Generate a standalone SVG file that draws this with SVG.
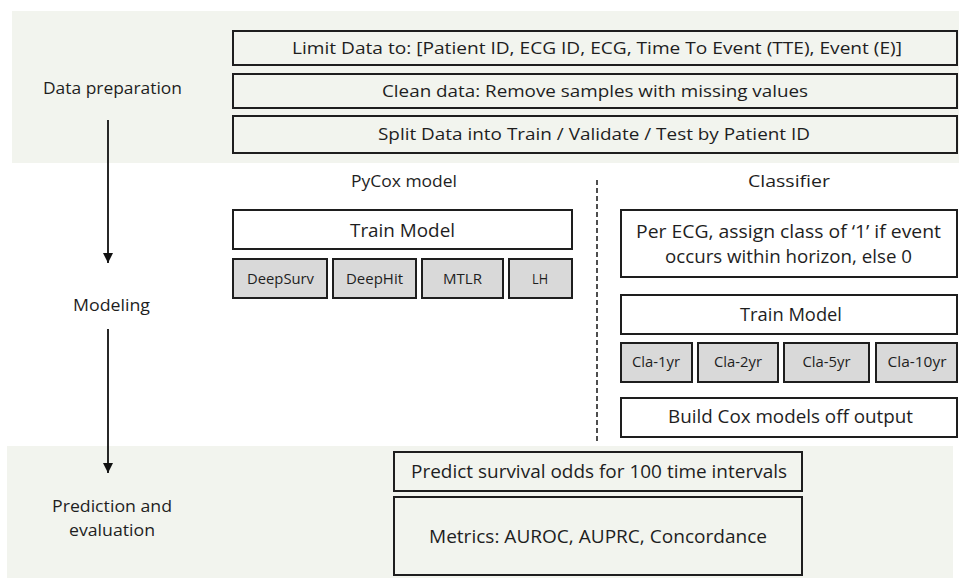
<svg xmlns="http://www.w3.org/2000/svg" width="959" height="578" viewBox="0 0 959 578">
<style>
text{font-family:"Open Sans","Liberation Sans",Arial,sans-serif;fill:#1e1e1e;text-anchor:middle}
.t{font-size:17px}
.tm{font-size:19px}
.s{font-size:14px}
.lbl{font-size:17px}
.bx{fill:none;stroke:#1e1e1e;stroke-width:2}
.wb{fill:#fff;stroke:#1e1e1e;stroke-width:2}
.gb{fill:#d9d9d9;stroke:#1e1e1e;stroke-width:2}
.band{fill:#f2f4ee}
</style>
<defs>
<marker id="arr" markerWidth="10" markerHeight="11" refX="10" refY="5" orient="auto" markerUnits="userSpaceOnUse">
<path d="M0,0 L10,5 L0,10 Z" fill="#111"/>
</marker>
</defs>
<rect class="band" x="12" y="11" width="947" height="152"/>
<rect class="band" x="7" y="446" width="946" height="132"/>

<g id="stage-labels">
<text class="lbl" x="112.5" y="94" textLength="139" lengthAdjust="spacingAndGlyphs">Data preparation</text>
<text class="lbl" x="111.5" y="311" textLength="77" lengthAdjust="spacingAndGlyphs">Modeling</text>
<text class="lbl" x="112" y="512" textLength="120" lengthAdjust="spacingAndGlyphs">Prediction and</text>
<text class="lbl" x="112" y="536" textLength="86" lengthAdjust="spacingAndGlyphs">evaluation</text>
</g>

<g id="limit-data"><rect class="bx" x="233" y="31" width="724" height="34"/><text class="t" x="597" y="54" textLength="610" lengthAdjust="spacingAndGlyphs">Limit Data to: [Patient ID, ECG ID, ECG, Time To Event (TTE), Event (E)]</text></g>
<g id="clean-data"><rect class="bx" x="233" y="74" width="724" height="34"/><text class="t" x="595" y="97" textLength="426" lengthAdjust="spacingAndGlyphs">Clean data: Remove samples with missing values</text></g>
<g id="split-data"><rect class="bx" x="233" y="116" width="724" height="37"/><text class="t" x="594" y="140" textLength="432" lengthAdjust="spacingAndGlyphs">Split Data into Train / Validate / Test by Patient ID</text></g>

<text class="lbl" x="404" y="187" textLength="106" lengthAdjust="spacingAndGlyphs">PyCox model</text>
<text class="lbl" x="789" y="187" textLength="82" lengthAdjust="spacingAndGlyphs">Classifier</text>

<g id="pycox-train"><rect class="wb" x="233" y="210" width="339" height="39"/><text class="tm" x="402.5" y="237" textLength="105" lengthAdjust="spacingAndGlyphs">Train Model</text></g>
<g id="deepsurv"><rect class="gb" x="233" y="259" width="94" height="39"/><text class="s" x="280.5" y="284" textLength="67" lengthAdjust="spacingAndGlyphs">DeepSurv</text></g>
<g id="deephit"><rect class="gb" x="333" y="259" width="83" height="39"/><text class="s" x="374.5" y="284" textLength="57" lengthAdjust="spacingAndGlyphs">DeepHit</text></g>
<g id="mtlr"><rect class="gb" x="422" y="259" width="81" height="39"/><text class="s" x="462.5" y="284" textLength="39" lengthAdjust="spacingAndGlyphs">MTLR</text></g>
<g id="lh"><rect class="gb" x="509" y="259" width="63" height="39"/><text class="s" x="540" y="284" textLength="16" lengthAdjust="spacingAndGlyphs">LH</text></g>

<g id="per-ecg"><rect class="wb" x="621" y="210" width="336" height="67"/><text class="tm" x="788.5" y="238" textLength="305" lengthAdjust="spacingAndGlyphs">Per ECG, assign class of ‘1’ if event</text><text class="tm" x="788.5" y="263" textLength="247" lengthAdjust="spacingAndGlyphs">occurs within horizon, else 0</text></g>
<g id="cla-train"><rect class="wb" x="621" y="295" width="336" height="39"/><text class="tm" x="791" y="321" textLength="102" lengthAdjust="spacingAndGlyphs">Train Model</text></g>
<g id="cla-1yr"><rect class="gb" x="621" y="343" width="71" height="39"/><text class="s" x="656" y="367" textLength="48" lengthAdjust="spacingAndGlyphs">Cla-1yr</text></g>
<g id="cla-2yr"><rect class="gb" x="698" y="343" width="80" height="39"/><text class="s" x="738" y="367" textLength="48" lengthAdjust="spacingAndGlyphs">Cla-2yr</text></g>
<g id="cla-5yr"><rect class="gb" x="784" y="343" width="85" height="39"/><text class="s" x="826.5" y="367" textLength="48" lengthAdjust="spacingAndGlyphs">Cla-5yr</text></g>
<g id="cla-10yr"><rect class="gb" x="876" y="343" width="81" height="39"/><text class="s" x="917" y="367" textLength="59" lengthAdjust="spacingAndGlyphs">Cla-10yr</text></g>
<g id="build-cox"><rect class="wb" x="621" y="398" width="336" height="39"/><text class="tm" x="790.5" y="423" textLength="245" lengthAdjust="spacingAndGlyphs">Build Cox models off output</text></g>

<g id="predict"><rect class="bx" x="394" y="452" width="408" height="39"/><text class="tm" x="599" y="478" textLength="376" lengthAdjust="spacingAndGlyphs">Predict survival odds for 100 time intervals</text></g>
<g id="metrics"><rect class="bx" x="394" y="497" width="408" height="78"/><text class="tm" x="598" y="543" textLength="338" lengthAdjust="spacingAndGlyphs">Metrics: AUROC, AUPRC, Concordance</text></g>

<g id="connectors">
<line x1="108" y1="120" x2="108" y2="263" stroke="#111" stroke-width="1.8" marker-end="url(#arr)"/>
<line x1="108" y1="329" x2="108" y2="473" stroke="#111" stroke-width="1.8" marker-end="url(#arr)"/>
<line x1="597" y1="180" x2="597" y2="442" stroke="#222" stroke-width="1.6" stroke-dasharray="5 3"/>
</g>
</svg>
